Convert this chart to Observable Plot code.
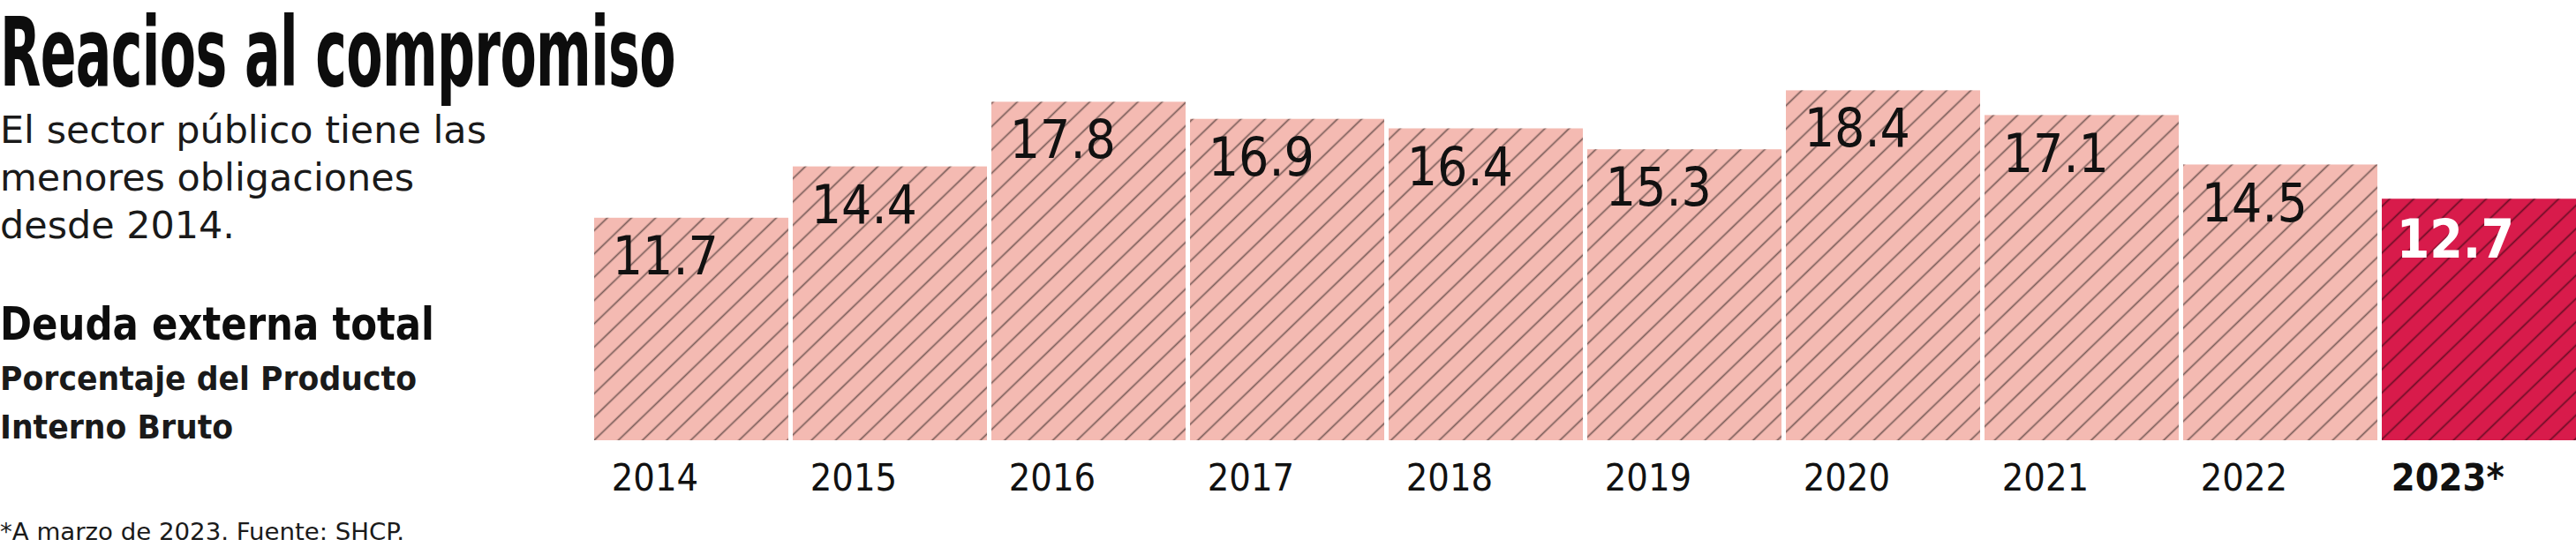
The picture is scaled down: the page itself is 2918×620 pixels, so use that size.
<!DOCTYPE html>
<html>
<head>
<meta charset="utf-8">
<script src="https://cdn.jsdelivr.net/npm/d3@7"></script>
<script src="https://cdn.jsdelivr.net/npm/@observablehq/plot@0.6"></script>
<style>
  html, body { margin: 0; padding: 0; background: #fff; }
  body { width: 2918px; height: 620px; overflow: hidden; position: relative;
         font-family: "Liberation Sans Narrow", "DejaVu Sans Condensed", "Open Sans", sans-serif; color: #111; }
  #chart { position: absolute; left: 0; top: 0; }
  .t { position: absolute; left: 0; top: 0; white-space: nowrap; transform-origin: 0 0; line-height: 0.9; }
  #title { font-size: 108px; font-weight: 700; color: #0d0d0d; letter-spacing: -1px; }
  .sub { font-size: 42px; font-weight: 400; color: #1a1a1a; }
  #deuda { font-size: 52px; font-weight: 700; color: #0d0d0d; }
  .pct { font-size: 38px; font-weight: 700; color: #1a1a1a; }
  #foot { font-size: 27px; font-weight: 400; color: #1a1a1a; }
</style>
</head>
<body>
<div id="chart"></div>
<div class="t" id="title">Reacios al compromiso</div>
<div class="t sub" id="sub1">El sector público tiene las</div>
<div class="t sub" id="sub2">menores obligaciones</div>
<div class="t sub" id="sub3">desde 2014.</div>
<div class="t" id="deuda">Deuda externa total</div>
<div class="t pct" id="pct1">Porcentaje del Producto</div>
<div class="t pct" id="pct2">Interno Bruto</div>
<div class="t" id="foot">*A marzo de 2023. Fuente: SHCP.</div>
<script>
// ---- data ----
const years = ["2014", "2015", "2016", "2017", "2018", "2019", "2020", "2021", "2022", "2023*"];
const values = [11.7, 14.4, 17.8, 16.9, 16.4, 15.3, 18.4, 17.1, 14.5, 12.7];
const highlightYear = "2023*";

const data = years.map((year, i) => ({ year, value: values[i], hl: year === highlightYear }));

// ---- layout ----
const W = 2918, H = 620;
const mL = 673, mR = 0, mT = 0, mB = 121;
const step = (W - mL - mR) / years.length;
const gap = 5;
const pad = gap / step;
const bw = step - gap;
const pink = "#f4bab2", crimson = "#d81b4b";
const font = '"Liberation Sans Narrow", "DejaVu Sans Condensed", "Open Sans", sans-serif';

const plot = Plot.plot({
  width: W, height: H,
  marginLeft: mL, marginRight: mR, marginTop: mT, marginBottom: mB,
  style: { fontFamily: font, background: "transparent", overflow: "visible" },
  x: { domain: years, paddingInner: pad, paddingOuter: 0, axis: null },
  y: { domain: [0, 23.15], axis: null },
  color: { type: "identity" },
  marks: [
    Plot.barY(data, { x: "year", y: "value", fill: d => d.hl ? crimson : pink }),
    Plot.barY(data, { x: "year", y: "value", fill: "url(#hatch)" }),
    Plot.text(data.filter(d => !d.hl), {
      x: "year", y: "value", text: d => d.value.toFixed(1),
      textAnchor: "start", lineAnchor: "top", dx: -bw / 2 + 20, dy: 21,
      fontSize: 60, fill: "#111"
    }),
    Plot.text(data.filter(d => d.hl), {
      x: "year", y: "value", text: d => d.value.toFixed(1),
      textAnchor: "start", lineAnchor: "top", dx: -bw / 2 + 16, dy: 24,
      fontSize: 60, fontWeight: 700, fill: "#fff"
    }),
    Plot.text(data.filter(d => !d.hl), {
      x: "year", y: d => 0, text: "year",
      textAnchor: "start", lineAnchor: "top", dx: -bw / 2 + 19, dy: 26,
      fontSize: 43, fill: "#111"
    }),
    Plot.text(data.filter(d => d.hl), {
      x: "year", y: d => 0, text: "year",
      textAnchor: "start", lineAnchor: "top", dx: -bw / 2 + 10, dy: 26,
      fontSize: 43, fontWeight: 700, fill: "#111"
    })
  ]
});

// hatch pattern
const svg = d3.select(plot);
const defs = svg.insert("defs", ":first-child");
const pat = defs.append("pattern")
  .attr("id", "hatch")
  .attr("patternUnits", "userSpaceOnUse")
  .attr("width", 19).attr("height", 19)
  .attr("patternTransform", "rotate(46)");
pat.append("line")
  .attr("x1", 9.5).attr("y1", -1).attr("x2", 9.5).attr("y2", 20)
  .attr("stroke", "#000").attr("stroke-opacity", 0.5).attr("stroke-width", 1.7);

document.getElementById("chart").appendChild(plot);

// ---- place HTML texts by baseline, fitting widths ----
function place(id, x, baseline, fitWidth, scale) {
  const el = document.getElementById(id);
  el.style.transform = "none";
  const probe = document.createElement("span");
  probe.style.cssText = "display:inline-block;width:0;height:0;vertical-align:baseline";
  el.appendChild(probe);
  const off = probe.offsetTop;
  el.removeChild(probe);
  el.style.left = x + "px";
  el.style.top = (baseline - off) + "px";
  let s = scale;
  if (fitWidth) s = fitWidth / el.getBoundingClientRect().width;
  if (s) el.style.transform = `scaleX(${s})`;
  return s;
}
function layout() {
  place("title", 0, 97, 765);
  const s1 = place("sub1", 0, 162, 551);
  place("sub2", 0, 216, null, s1);
  place("sub3", 0, 270, null, s1);
  place("deuda", 0, 385, 492);
  const s2 = place("pct1", 0, 442, 472);
  place("pct2", 0, 497, null, s2);
  place("foot", 0, 612, 458);
}
layout();
if (document.fonts && document.fonts.ready) document.fonts.ready.then(layout);
</script>
</body>
</html>
